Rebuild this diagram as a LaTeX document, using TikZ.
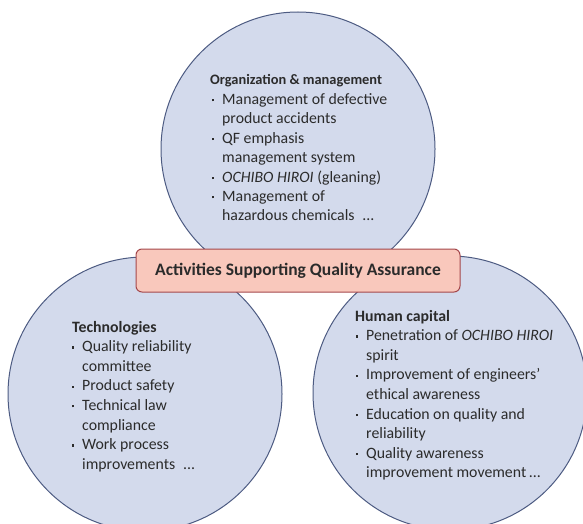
\documentclass[tikz,border=0pt]{standalone}
\usepackage{fontspec}
\setmainfont{Carlito}
\definecolor{circfill}{HTML}{D3DAEC}
\definecolor{circline}{HTML}{4D5B82}
\definecolor{boxfill}{HTML}{F9C8BC}
\definecolor{boxline}{HTML}{A4474B}
\definecolor{txt}{HTML}{2B2B2B}
\newcommand{\bl}{\makebox[10pt][l]{\raisebox{3pt}{\rule{2.2pt}{2.2pt}}}}
\newcommand{\ind}{\hspace*{10pt}}
\newcommand{\dts}{...}
\begin{document}
\begin{tikzpicture}[x=1pt,y=-1pt,
 circ/.style={circle, draw=circline, fill=circfill, line width=1pt, minimum size=274pt, inner sep=0},
 hdr/.style={anchor=base west, inner sep=0, font=\fontsize{15.8}{19}\selectfont\bfseries, text=txt},
 itm/.style={anchor=base west, inner sep=0, font=\fontsize{15.8}{19}\selectfont, text=txt},
 titlebox/.style={draw=boxline, fill=boxfill, line width=1pt, rounded corners=6pt, minimum width=324pt, minimum height=43pt, inner sep=0, font=\fontsize{17.5}{20}\selectfont\bfseries, text=txt}]
\useasboundingbox (0,0) rectangle (583,524);
\begin{scope}
\clip (0,0) rectangle (583,524);
\node[circ] (org) at (298,149) {};
\node[circ] (tech) at (145,394) {};
\node[circ] (human) at (450,393) {};
\end{scope}
\node[titlebox] (title) at (298,270.5) {Activities Supporting Quality Assurance};
% top circle
\node[hdr, font=\fontsize{14.4}{17}\selectfont\bfseries] (orgh) at (210,85) {Organization \& management};
\foreach \t [count=\i] in {{\bl Management of defective},{\ind product accidents},{\bl QF emphasis},{\ind management system},{\bl\textit{OCHIBO HIROI} (gleaning)},{\bl Management of},{\ind hazardous chemicals\enspace\dts}}
  \node[itm] (org\i) at (212,85+\i*19.4) {\t};
% left circle
\node[hdr] (techh) at (72,332) {Technologies};
\foreach \t [count=\i] in {{\bl Quality reliability},{\ind committee},{\bl Product safety},{\bl Technical law},{\ind compliance},{\bl Work process},{\ind improvements\enspace\dts}}
  \node[itm] (tech\i) at (72,332+\i*19.6) {\t};
% right circle
\node[hdr] (humanh) at (355,321) {Human capital};
\foreach \t [count=\i] in {{\bl Penetration of \textit{OCHIBO HIROI}},{\ind spirit},{\bl Improvement of engineers’},{\ind ethical awareness},{\bl Education on quality and},{\ind reliability},{\bl Quality awareness},{\ind improvement movement\,\dts}}
  \node[itm] (human\i) at (356,321+\i*19.6) {\t};
\end{tikzpicture}
\end{document}
